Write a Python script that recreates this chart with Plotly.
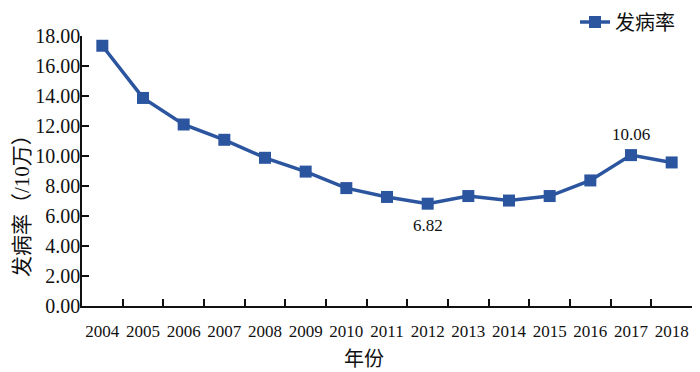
import plotly.graph_objects as go

years = ["2004", "2005", "2006", "2007", "2008", "2009", "2010", "2011",
         "2012", "2013", "2014", "2015", "2016", "2017", "2018"]
incidence = [17.35, 13.87, 12.10, 11.08, 9.88, 8.96, 7.86, 7.27,
             6.82, 7.33, 7.03, 7.33, 8.37, 10.06, 9.57]
labeled_years = ["2012", "2017"]
labeled_text = ["6.82", "10.06"]
labeled_vals = [6.82, 10.06]
label_shift = [-22, 21]

SERIF = "Liberation Serif, Noto Sans CJK SC"
BLUE = "#2C55A0"

# the page body has an 8px margin, so the figure is drawn 8px smaller
OFF = 8
W, H = 700 - OFF, 372 - OFF
L, R, T, B = 82 - OFF, 8, 36 - OFF, 66
pw, ph = W - L - R, H - T - B

def px_to_paper(xp, yp):
    # xp, yp: page pixel coordinates
    xp, yp = xp - OFF, yp - OFF
    return (xp - L) / pw, (H - B - yp) / ph

fig = go.Figure()
fig.add_trace(go.Scatter(
    x=years, y=incidence, mode="lines+markers", name="发病率",
    line=dict(color=BLUE, width=3.5),
    marker=dict(symbol="square", size=12, color=BLUE),
))

annotations = []
for xv, yv, txt, sh in zip(labeled_years, labeled_vals, labeled_text, label_shift):
    annotations.append(dict(x=years.index(xv), y=yv, xref="x", yref="y", text=txt,
                            showarrow=False, yshift=sh,
                            font=dict(family=SERIF, size=17, color="#111")))

yt = px_to_paper(22, 201)
annotations.append(dict(text="发病率（/10万）", textangle=-90, x=yt[0], y=yt[1],
                        xref="paper", yref="paper", xanchor="center", yanchor="middle",
                        showarrow=False,
                        font=dict(size=21, family=SERIF, color="#111")))
xt = px_to_paper(364, 359)
annotations.append(dict(text="年份", x=xt[0], y=xt[1], xref="paper", yref="paper",
                        xanchor="center", yanchor="middle", showarrow=False,
                        font=dict(size=20, family=SERIF, color="#111")))

lg = px_to_paper(680, 22)
fig.update_layout(
    width=W, height=H,
    margin=dict(l=L, r=R, t=T, b=B, autoexpand=False),
    paper_bgcolor="white", plot_bgcolor="white",
    font=dict(family=SERIF, color="#111"),
    showlegend=True,
    legend=dict(x=lg[0], xanchor="right", y=lg[1], yanchor="middle",
                font=dict(size=20, family="Noto Sans CJK SC", color="#111"),
                bgcolor="rgba(0,0,0,0)", borderwidth=0),
    annotations=annotations,
)

fig.update_xaxes(
    type="category", range=[-0.5, 14.5], tickson="boundaries", tickangle=0,
    showline=True, linecolor="#111", linewidth=1.5,
    ticks="inside", ticklen=7, tickwidth=1.5, tickcolor="#111",
    showgrid=False, zeroline=False, automargin=False,
    ticklabelstandoff=9,
    tickfont=dict(size=17, family=SERIF, color="#111"),
)
fig.update_yaxes(
    range=[0, 18], dtick=2, tickformat=".2f",
    showline=True, linecolor="#111", linewidth=1.5,
    ticks="inside", ticklen=7, tickwidth=1.5, tickcolor="#111",
    showgrid=False, zeroline=False, automargin=False,
    ticklabelstandoff=-4,
    tickfont=dict(size=20, family=SERIF, color="#111"),
)

fig.write_html("out.html")
